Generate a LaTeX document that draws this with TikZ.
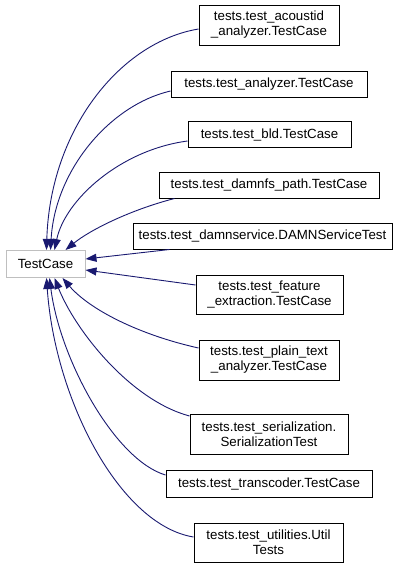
\documentclass[tikz,border=0pt]{standalone}
\usepackage{fontspec}
\setmainfont{Liberation Sans}
\usetikzlibrary{arrows.meta}
\definecolor{edgeblue}{HTML}{191970}
\definecolor{basegray}{HTML}{BFBFBF}
\tikzset{
  cls/.style={draw=black, line width=1pt, fill=white, inner sep=0pt, align=center,
    font=\fontsize{13.3}{15}\selectfont},
  base/.style={cls, draw=basegray},
  inh/.style={draw=edgeblue, line width=0.9pt, -{Triangle[length=11pt,width=8pt]}}
}
\begin{document}
\begin{tikzpicture}[x=1pt,y=-1pt]
\useasboundingbox (0,0) rectangle (411,568);
\node[base, minimum width=79pt, minimum height=27pt] (tc) at (45.5,264) {TestCase};
\node[cls, minimum width=140pt, minimum height=40pt] (n1) at (269,25) {tests.test\_acoustid\\\_analyzer.TestCase};
\node[cls, minimum width=196pt, minimum height=26pt] (n2) at (269,84) {tests.test\_analyzer.TestCase};
\node[cls, minimum width=163pt, minimum height=26pt] (n3) at (269.5,134.5) {tests.test\_bld.TestCase};
\node[cls, minimum width=220pt, minimum height=26pt] (n4) at (269,185) {tests.test\_damnfs\_path.TestCase};
\node[cls, minimum width=259pt, minimum height=26pt] (n5) at (262.5,236) {tests.test\_damnservice.DAMNServiceTest};
\node[cls, minimum width=147pt, minimum height=39pt] (n6) at (269.5,294.5) {tests.test\_feature\\\_extraction.TestCase};
\node[cls, minimum width=140pt, minimum height=40pt] (n7) at (269,360) {tests.test\_plain\_text\\\_analyzer.TestCase};
\node[cls, minimum width=158pt, minimum height=40pt] (n8) at (269,434) {tests.test\_serialization.\\SerializationTest};
\node[cls, minimum width=206pt, minimum height=27pt] (n9) at (269,483.5) {tests.test\_transcoder.TestCase};
\node[cls, minimum width=149pt, minimum height=39pt] (n10) at (268.5,542.5) {tests.test\_utilities.Util\\Tests};

\draw[inh] ([yshift=-4pt]n1.west) .. controls (120,42) and (50,130) .. ([xshift=41pt]tc.north west);
\draw[inh] ([yshift=-7pt]n2.west) .. controls (110,105) and (55,170) .. ([xshift=45pt]tc.north west);
\draw[inh] ([yshift=-6.5pt]n3.west) .. controls (120,150) and (65,200) .. ([xshift=49pt]tc.north west);
\draw[inh] ([xshift=16pt]n4.south west) .. controls (130,210) and (90,230) .. ([xshift=60pt]tc.north west);
\draw[inh] ([xshift=37pt]n5.south west) -- ([yshift=5pt]tc.east);
\draw[inh] ([yshift=9.5pt]n6.west) -- ([yshift=-6pt]tc.east);
\draw[inh] ([yshift=12pt]n7.west) .. controls (140,335) and (90,310) .. ([xshift=57pt]tc.south west);
\draw[inh] ([yshift=18pt]n8.west) .. controls (130,400) and (75,330) .. ([xshift=49pt]tc.south west);
\draw[inh] ([yshift=8.5pt]n9.west) .. controls (115,460) and (60,360) .. ([xshift=44pt]tc.south west);
\draw[inh] ([yshift=5.5pt]n10.west) .. controls (120,525) and (55,400) .. ([xshift=41pt]tc.south west);
\end{tikzpicture}
\end{document}
